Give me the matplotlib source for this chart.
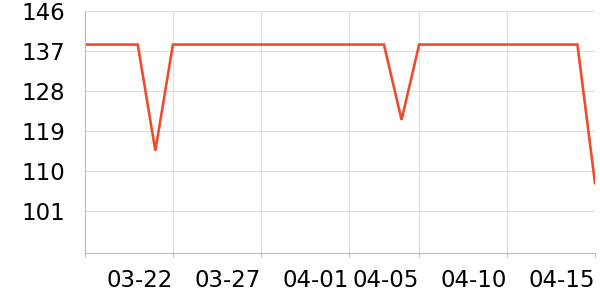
import matplotlib
matplotlib.use("Agg")
import matplotlib.pyplot as plt
import numpy as np

# daily values, 03-17 .. 04-15
dates = np.arange(np.datetime64("2024-03-17"), np.datetime64("2024-04-16"), np.timedelta64(1, "D"))
values = [
    138.4, 138.4, 138.4, 138.4, 114.6, 138.4, 138.4, 138.4, 138.4, 138.4,
    138.4, 138.4, 138.4, 138.4, 138.4, 138.4, 138.4, 138.4, 121.5, 138.4,
    138.4, 138.4, 138.4, 138.4, 138.4, 138.4, 138.4, 138.4, 138.4, 107.3,
]
tick_dates = np.array(["2024-03-17", "2024-03-22", "2024-03-27", "2024-04-01",
                       "2024-04-05", "2024-04-10", "2024-04-15"], dtype="datetime64[D]")
tick_labels = ["", "03-22", "03-27", "04-01", "04-05", "04-10", "04-15"]
y_ticks = [101, 110, 119, 128, 137, 146]

fig = plt.figure(figsize=(6, 3), dpi=100)
ax = fig.add_axes([85 / 600, 1 - 252.7 / 300, 510 / 600, 242 / 300])

ax.plot(dates.astype(object), values, color="#ef4b2f", linewidth=1.9,
        solid_joinstyle="miter")

ax.set_xlim(dates[0].astype(object), dates[-1].astype(object))
ax.set_ylim(91.7, 146)
ax.set_yticks(y_ticks)
ax.set_xticks([d.astype(object) for d in tick_dates])
ax.set_xticklabels(tick_labels, ha="right")

ax.grid(True, color="#dddddd", linewidth=0.8)
ax.xaxis.get_gridlines()[-1].set_visible(False)
for s in ("top", "right"):
    ax.spines[s].set_visible(False)
for s in ("left", "bottom"):
    ax.spines[s].set_color("#bbbbbb")
    ax.spines[s].set_linewidth(0.8)

ax.tick_params(axis="y", length=0, pad=14.5, labelsize=16.5, colors="#000000")
ax.tick_params(axis="x", length=3, pad=9, labelsize=16.5, color="#bbbbbb")

fig.savefig("out.png", dpi=100)
